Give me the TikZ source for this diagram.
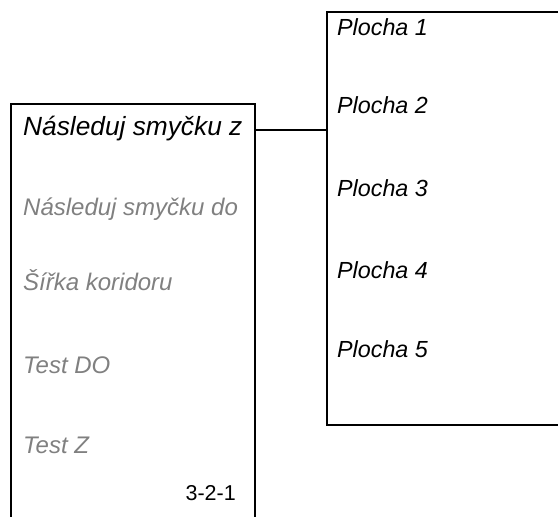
\documentclass[tikz,border=0pt]{standalone}
\usepackage{fontspec}
\setmainfont{Liberation Sans}
\definecolor{dimtext}{RGB}{128,128,128}
\begin{document}
\begin{tikzpicture}[x=1pt,y=-1pt,
  frame/.style={draw=black,line width=2pt,rectangle,inner sep=0pt,anchor=north west},
  mainitem/.style={anchor=base west,inner sep=0pt,font=\fontsize{26.3}{31}\selectfont\itshape},
  dimitem/.style={anchor=base west,inner sep=0pt,text=dimtext,font=\fontsize{24}{29}\selectfont\itshape},
  areaitem/.style={anchor=base west,inner sep=0pt,font=\fontsize{23.3}{28}\selectfont\itshape},
  pagenum/.style={anchor=base east,inner sep=0pt,font=\fontsize{21.5}{26}\selectfont},
  link/.style={draw=black,line width=1.5pt}]
\useasboundingbox (0,0) rectangle (558,517);
\begin{scope}
\clip (0,0) rectangle (558,517);
\node[frame,minimum width=244pt,minimum height=440pt] (menu) at (10,103) {};
\node[frame,minimum width=260pt,minimum height=413pt] (areas) at (326,11) {};
\coordinate (lk) at (0,130);
\draw[link] (menu.east |- lk) -- (areas.west |- lk);
\end{scope}
\node[mainitem] (m1) at (23,135) {Následuj smyčku z};
\node[dimitem] (m2) at (23,215) {Následuj smyčku do};
\node[dimitem] (m3) at (23,290) {Šířka koridoru};
\node[dimitem] (m4) at (23,373) {Test DO};
\node[dimitem] (m5) at (23,453) {Test Z};
\node[pagenum] (pg) at (236,500) {3-2-1};
\node[areaitem] (p1) at (337,35) {Plocha 1};
\node[areaitem] (p2) at (337,113) {Plocha 2};
\node[areaitem] (p3) at (337,196) {Plocha 3};
\node[areaitem] (p4) at (337,278) {Plocha 4};
\node[areaitem] (p5) at (337,357) {Plocha 5};
\end{tikzpicture}
\end{document}
